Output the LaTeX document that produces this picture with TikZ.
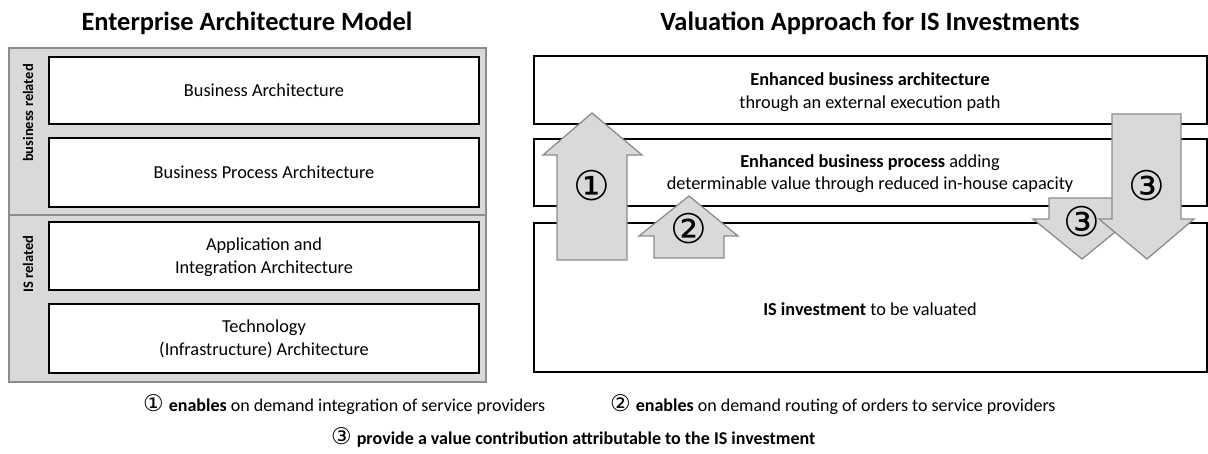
\documentclass[tikz,border=0pt]{standalone}
\usepackage{fontspec}
\setmainfont{Carlito}
\newfontfamily\circfont{DejaVu Sans}
\definecolor{panelgrey}{HTML}{D9D9D9}
\definecolor{edgegrey}{HTML}{8C8C8C}
\newcommand{\legcirc}[1]{{\fontsize{23}{22}\selectfont\circfont #1}\hspace{5pt}}
\tikzset{
  layerbox/.style={draw=black, line width=1.4pt, fill=white},
  arrowshape/.style={draw=edgegrey, line width=1.3pt, fill=panelgrey},
  boxtext/.style={font=\fontsize{18.3}{22.5}\selectfont, align=center, inner sep=0pt},
  titletext/.style={font=\fontsize{26.4}{30}\selectfont\bfseries, inner sep=0pt},
  sidetext/.style={font=\fontsize{14.5}{16}\selectfont\bfseries, rotate=90, inner sep=0pt},
  circlabel/.style={font=\fontsize{41}{41}\selectfont\circfont, inner sep=0pt},
  legendtext/.style={font=\fontsize{18}{22}\selectfont, inner sep=0pt, anchor=west},
}
\begin{document}
\begin{tikzpicture}[x=1pt,y=-1pt]
\useasboundingbox (0,0) rectangle (1208,453);
% titles
\node[titletext] (t1) at (247,23) {Enterprise Architecture Model};
\node[titletext] (t2) at (870,23) {Valuation Approach for IS Investments};
% left panel
\draw[draw=edgegrey, line width=1.6pt, fill=panelgrey] (9,48) rectangle (486,382);
\draw[draw=edgegrey, line width=1.6pt] (9,215) -- (486,215);
\node[sidetext] (s1) at (28,113) {business related};
\node[sidetext] (s2) at (28,264) {IS related};
\draw[layerbox] (49,57) rectangle (479,124);
\node[boxtext] (l1) at (264,90.5) {Business Architecture};
\draw[layerbox] (49,138) rectangle (479,207);
\node[boxtext] (l2) at (264,172.5) {Business Process Architecture};
\draw[layerbox] (49,222) rectangle (479,290);
\node[boxtext] (l3) at (264,257) {Application and\\Integration Architecture};
\draw[layerbox] (49,304) rectangle (479,373);
\node[boxtext] (l4) at (264,339) {Technology\\(Infrastructure) Architecture};
% right panel
\draw[layerbox] (534,56) rectangle (1207,124);
\node[boxtext] (r1) at (870,92) {\textbf{Enhanced business architecture}\\through an external execution path};
\draw[layerbox] (534,139) rectangle (1207,206);
\node[boxtext] (r2) at (870,173.5) {\textbf{Enhanced business process} adding\\determinable value through reduced in-house capacity};
\draw[layerbox] (534,223) rectangle (1207,372);
\node[boxtext] (r3) at (870,309) {\textbf{IS investment} to be valuated};
% arrows
\draw[arrowshape] (557,260) -- (557,155) -- (543,155) -- (592,113) -- (642,155) -- (627,155) -- (627,260) -- cycle;
\node[circlabel] (a1) at (592,186) {①};
\draw[arrowshape] (654,258) -- (654,236) -- (639,236) -- (689,196) -- (738,236) -- (724,236) -- (724,258) -- cycle;
\node[circlabel] (a2) at (689,229) {②};
\draw[arrowshape] (1049,198) -- (1115,198) -- (1115,219) -- (1131,219) -- (1082,259) -- (1033,219) -- (1049,219) -- cycle;
\node[circlabel] (a3) at (1082,222) {③};
\draw[arrowshape] (1112,114) -- (1181,114) -- (1181,219) -- (1194,219) -- (1147,259) -- (1099,219) -- (1112,219) -- cycle;
\node[circlabel] (a4) at (1147,186) {③};
% legend
\node[legendtext] (g1) at (143,405) {\legcirc{①}\textbf{enables} on demand integration of service providers};
\node[legendtext] (g2) at (610,405) {\legcirc{②}\textbf{enables} on demand routing of orders to service providers};
\node[legendtext] (g3) at (331,437) {\legcirc{③}\textbf{provide a value contribution attributable to the IS investment}};
\end{tikzpicture}
\end{document}
